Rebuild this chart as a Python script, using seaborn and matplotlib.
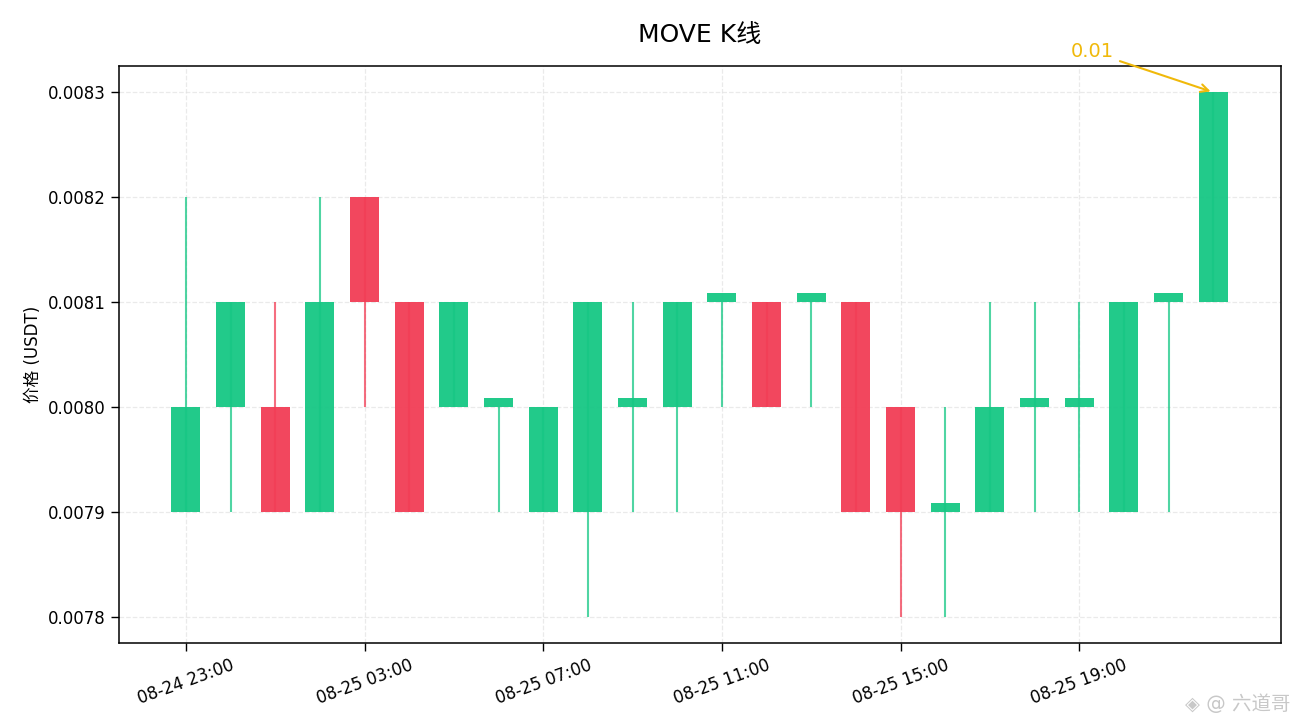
import matplotlib
matplotlib.use("Agg")
import matplotlib.pyplot as plt
import seaborn as sns
import numpy as np
import pandas as pd

times = ["08-24 23:00", "08-25 00:00", "08-25 01:00", "08-25 02:00", "08-25 03:00",
         "08-25 04:00", "08-25 05:00", "08-25 06:00", "08-25 07:00", "08-25 08:00",
         "08-25 09:00", "08-25 10:00", "08-25 11:00", "08-25 12:00", "08-25 13:00",
         "08-25 14:00", "08-25 15:00", "08-25 16:00", "08-25 17:00", "08-25 18:00",
         "08-25 19:00", "08-25 20:00", "08-25 21:00", "08-25 22:00"]
opens = [0.0079, 0.0080, 0.0080, 0.0079, 0.0082, 0.0081, 0.0080, 0.0080, 0.0079, 0.0079,
         0.0080, 0.0080, 0.0081, 0.0081, 0.0081, 0.0081, 0.0080, 0.0079, 0.0079, 0.0080,
         0.0080, 0.0079, 0.0081, 0.0081]
highs = [0.0082, 0.0081, 0.0081, 0.0082, 0.0082, 0.0081, 0.0081, 0.0080, 0.0080, 0.0081,
         0.0081, 0.0081, 0.0081, 0.0081, 0.0081, 0.0081, 0.0080, 0.0080, 0.0081, 0.0081,
         0.0081, 0.0081, 0.0081, 0.0083]
lows = [0.0079, 0.0079, 0.0079, 0.0079, 0.0080, 0.0079, 0.0080, 0.0079, 0.0079, 0.0078,
        0.0079, 0.0079, 0.0080, 0.0080, 0.0080, 0.0079, 0.0078, 0.0078, 0.0079, 0.0079,
        0.0079, 0.0079, 0.0079, 0.0081]
closes = [0.0080, 0.0081, 0.0079, 0.0081, 0.0081, 0.0079, 0.0081, 0.0080, 0.0080, 0.0081,
          0.0080, 0.0081, 0.0081, 0.0080, 0.0081, 0.0079, 0.0079, 0.0079, 0.0080, 0.0080,
          0.0080, 0.0081, 0.0081, 0.0083]
tick_labels = times[::4]

sns.set_theme(style="ticks")
plt.rcParams["font.family"] = ["DejaVu Sans", "Noto Sans CJK SC"]
plt.rcParams["axes.unicode_minus"] = False
plt.rcParams["text.color"] = "black"
plt.rcParams["axes.labelcolor"] = "black"

df = pd.DataFrame({"time": times, "open": opens, "high": highs, "low": lows, "close": closes})
df["idx"] = np.arange(len(df))
df["up"] = df["close"] >= df["open"]
df["bottom"] = df[["open", "close"]].min(axis=1)
df["height"] = (df["close"] - df["open"]).abs().clip(lower=0.0000085)

GREEN = "#16C784"
RED = "#F23D55"

fig = plt.figure(figsize=(13, 7.28), dpi=100)
ax = fig.add_axes([0.0915, 0.1168, 0.894, 0.7925])

colors = [GREEN if u else RED for u in df["up"]]
ax.bar(df["idx"], df["height"], bottom=df["bottom"], width=0.65, color=colors,
       alpha=0.95, zorder=2, linewidth=0)
ax.vlines(df["idx"], df["low"], df["high"], colors=colors, linewidth=1.5, alpha=0.75, zorder=3)

ax.set_xlim(-1.5, len(df) + 0.52)
ax.set_ylim(0.007775, 0.008325)
yt = [0.0078, 0.0079, 0.0080, 0.0081, 0.0082, 0.0083]
ax.set_yticks(yt)
ax.set_yticklabels([f"{v:.4f}" for v in yt])
ax.set_xticks(df["idx"][::4])
ax.set_xticklabels(tick_labels, rotation=20, ha="center")
ax.tick_params(axis="both", labelsize=12, colors="black", length=6, width=1)

ax.grid(True, linestyle="--", color="#dddddd", alpha=0.6, linewidth=0.9)
ax.set_axisbelow(True)
for s in ax.spines.values():
    s.set_visible(True)
    s.set_color("black")
    s.set_linewidth(1.1)

ax.set_title("MOVE K线", fontsize=18, pad=17, color="black")
ax.set_ylabel("价格 (USDT)", fontsize=12, color="black")

last = df.iloc[-1]
ax.annotate(f"{last['close']:.2f}", xy=(last["idx"], last["close"]),
            xytext=(-87, 29), textcoords="offset points", ha="center", va="center",
            color="#F0B90B", fontsize=14,
            arrowprops=dict(arrowstyle="->", color="#F0B90B", lw=1.5))

fig.text(0.993, 0.033, "◈ @ 六道哥", ha="right", va="center", fontsize=14,
         color="#c8c8c8")

fig.savefig("out.png", dpi=100)
